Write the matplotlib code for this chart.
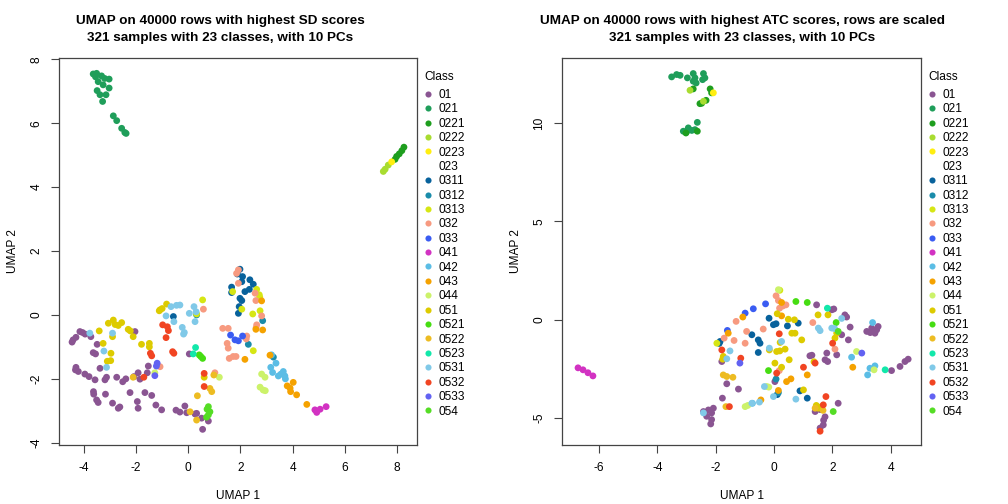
import matplotlib
matplotlib.use("Agg")
import matplotlib.pyplot as plt
from matplotlib.lines import Line2D

plt.rcParams['font.family'] = ['Liberation Sans', 'DejaVu Sans']

classes = ["01", "021", "0221", "0222", "0223", "023", "0311", "0312", "0313", "032",
           "033", "041", "042", "043", "044", "051", "0521", "0522", "0523", "0531",
           "0532", "0533", "054"]
class_colors = ["#8A5592", "#1F9E5A", "#1E9E1E", "#A8DC30", "#FFEE10", "#FFFFFF",
                "#08629C", "#1A8CAA", "#D6E614", "#F79A80", "#3A5CF2", "#D232C2",
                "#5BBDE5", "#F5A200", "#CCF26A", "#DDCB00", "#46DD12", "#EDBC22",
                "#12E8AA", "#80C9E8", "#F14422", "#6262F2", "#55DD25"]

# ---- Left panel: SD scores (UMAP 1, UMAP 2) ----
SD_01 = [(-4.41, -0.78), (-4.30, -0.70), (-4.45, -0.85), (-4.05, -0.55), (-3.95, -0.60),
         (-4.15, -0.52), (-3.73, -0.68), (-3.49, -0.92), (-3.64, -1.18), (-3.55, -1.22),
         (-3.38, -1.67), (-4.30, -1.64), (-4.21, -1.77), (-4.32, -1.72), (-3.96, -1.85),
         (-3.80, -1.93), (-3.57, -2.03), (-3.19, -2.03), (-3.13, -1.95), (-2.74, -1.95),
         (-2.51, -2.09), (-2.39, -2.00), (-2.08, -1.93), (-1.85, -2.01), (-1.92, -1.81),
         (-1.57, -1.81), (-1.53, -1.60), (-2.04, -0.52), (-3.63, -2.40), (-3.62, -2.48),
         (-3.51, -2.66), (-3.45, -2.74), (-3.17, -2.48), (-2.90, -2.76), (-2.68, -2.92),
         (-2.62, -2.88), (-2.23, -2.43), (-1.95, -2.71), (-1.92, -2.92), (-1.66, -2.43),
         (-1.40, -2.52), (-1.24, -2.82), (-1.02, -2.97), (-0.47, -2.98), (-0.32, -3.04),
         (-0.13, -2.85), (-0.06, -3.06), (0.26, -3.10), (0.32, -3.08), (0.51, -3.23),
         (0.77, -3.32), (0.55, -3.58), (0.04, -1.22)]
SD_021 = [(-3.64, 7.54), (-3.51, 7.56), (-3.32, 7.48), (-3.03, 7.38), (-3.45, 7.30),
          (-3.26, 7.20), (-3.03, 7.10), (-3.49, 7.02), (-3.38, 6.89), (-3.15, 6.89),
          (-3.28, 6.68), (-3.55, 7.45), (-3.20, 7.40), (-2.87, 6.23), (-2.74, 6.08),
          (-2.55, 5.84), (-2.43, 5.71), (-2.38, 5.68)]
SD_0221 = [(8.26, 5.25), (8.18, 5.14), (8.08, 5.04), (7.98, 4.96), (7.92, 4.87)]
SD_0222 = [(7.66, 4.69), (7.54, 4.56), (7.47, 4.49)]
SD_0223 = [(7.79, 4.79)]
SD_023 = []
SD_0311 = [(1.98, 1.43), (1.88, 1.28), (2.08, 1.20), (2.05, 1.04), (2.36, 1.10),
           (2.49, 0.96), (2.34, 0.80), (2.17, 0.73), (1.66, 0.87), (1.66, 0.70),
           (2.05, 0.45), (1.95, 0.26), (1.92, 0.05), (-0.57, -0.05), (1.98, 0.52)]
SD_0312 = [(2.85, -0.18), (2.30, -0.92), (3.26, -1.32), (0.32, 0.00)]
SD_0313 = [(2.62, 0.80), (2.72, 0.63), (2.74, 0.55), (1.70, 0.73), (2.05, 0.18),
           (2.47, 0.03), (2.75, 0.13), (0.55, 0.47), (0.32, 0.03), (2.49, -1.12)]
SD_032 = [(1.92, 1.41), (1.85, 1.30), (1.92, 0.99), (2.56, 0.68), (2.59, 0.45),
          (2.81, -0.03), (2.62, -0.31), (1.32, -0.42), (1.53, -0.42), (1.49, -0.89),
          (1.53, -1.04), (1.57, -1.36), (1.72, -1.30), (1.83, -1.30), (2.24, -0.66),
          (2.22, -0.75), (0.58, 0.18), (1.02, -1.81), (-1.08, -1.62), (2.60, -0.40)]
SD_033 = [(1.62, -0.63), (1.79, -0.78), (1.92, -0.81), (2.08, -0.66)]
SD_041 = [(4.85, -2.97), (5.05, -2.95), (5.28, -2.87), (4.92, -3.05)]
SD_042 = [(3.19, -1.25), (3.36, -1.51), (3.16, -1.64), (3.23, -1.80), (3.45, -1.91),
          (3.64, -1.77), (3.70, -1.91), (3.72, -2.00), (3.55, -1.85)]
SD_043 = [(4.02, -2.11), (3.79, -2.22), (3.90, -2.29), (3.92, -2.40), (4.15, -2.50),
          (4.54, -2.80), (2.81, 0.44), (2.85, -0.47), (2.59, -0.45), (2.17, -1.39),
          (3.13, -1.26)]
SD_044 = [(2.81, -1.85), (2.94, -1.95), (2.75, -2.26), (2.87, -2.35), (2.95, -2.37),
          (1.19, -1.95), (-1.28, -1.81)]
SD_051 = [(-2.87, -0.16), (-3.06, -0.26), (-2.68, -0.33), (-2.55, -0.24), (-2.80, -0.30),
          (-2.30, -0.45), (-2.22, -0.50), (-3.41, -0.50), (-2.90, -0.68), (-3.26, -0.89),
          (-2.11, -0.68), (-1.79, -0.92), (-1.49, -0.89), (-1.49, -1.00), (-2.96, -1.20),
          (-2.97, -1.43), (-3.10, -1.45), (-1.11, 0.13), (-1.00, 0.20), (-0.83, 0.34),
          (-1.08, 0.16), (0.61, -1.95)]
SD_0521 = [(0.42, -1.25), (0.55, -1.36), (0.48, -1.30)]
SD_0522 = [(0.98, -1.88), (0.83, -2.30), (0.90, -2.40), (0.35, -2.53), (0.07, -3.03),
           (0.32, -3.29), (-2.11, -1.95)]
SD_0523 = [(0.28, -1.02), (0.19, -1.22)]
SD_0531 = [(-0.66, 0.26), (-0.45, 0.30), (-0.32, 0.31), (0.04, 0.05), (0.22, 0.26),
           (0.26, -0.21), (-0.55, -0.21), (-0.85, -0.03), (-0.23, -0.39), (-0.15, -0.55),
           (-0.18, -0.60), (-3.77, -0.57), (-2.90, -0.57), (-3.23, -1.13), (-3.13, -1.64),
           (0.30, 0.10)]
SD_0532 = [(-0.98, -0.31), (-0.80, -0.37), (-0.76, -0.49), (-0.85, -0.71), (-0.60, -1.15),
           (-0.55, -1.20), (-1.40, -1.28), (-1.70, -1.95), (0.61, -1.83), (0.61, -2.24),
           (-1.45, -1.20)]
SD_0533 = [(-1.19, -1.51), (-1.22, -1.60), (-1.28, -1.90)]
SD_054 = [(0.77, -2.87), (0.83, -3.03), (0.77, -3.13), (0.70, -3.20), (0.72, -2.95)]

# ---- Right panel: ATC scores (UMAP 1, UMAP 2) ----
ATC_01 = [(-2.25, -4.58), (-2.42, -4.66), (-2.14, -4.73), (-2.31, -4.90), (-2.14, -5.07),
          (-2.17, -5.29), (-2.08, -4.49), (-1.79, -2.12), (-1.62, -3.25), (-1.22, -3.52),
          (-1.77, -3.98), (0.03, -3.14), (1.46, 0.76), (1.98, 0.51), (2.05, 0.55),
          (2.43, 0.25), (2.49, 0.14), (2.61, -0.37), (2.32, -0.76), (2.55, -1.02),
          (1.23, -1.83), (1.81, -1.69), (1.75, -2.03), (1.84, -2.12), (2.15, -1.78),
          (1.30, -1.80), (3.18, -0.59), (3.35, -0.42), (3.52, -0.51), (3.46, -0.68),
          (3.57, -0.34), (3.30, -0.65), (4.49, -2.12), (4.32, -2.37), (4.03, -2.58),
          (4.60, -2.00), (1.41, -4.66), (1.75, -4.93), (1.69, -5.34), (1.58, -5.50),
          (2.20, -4.24), (1.58, -4.56), (1.70, -5.10)]
ATC_021 = [(-3.51, 12.34), (-3.34, 12.46), (-3.22, 12.42), (-2.97, 12.29), (-2.77, 12.51),
           (-2.71, 12.29), (-2.77, 12.12), (-2.67, 12.03), (-2.42, 12.51), (-2.37, 12.29),
           (-2.45, 12.20), (-2.63, 10.03), (-2.94, 9.75), (-3.11, 9.58), (-2.82, 9.62),
           (-2.71, 9.66), (-3.00, 9.55)]
ATC_0221 = [(-2.77, 11.73), (-2.19, 11.73), (-2.14, 11.53), (-2.33, 11.15), (-2.54, 10.98),
            (-2.48, 11.00), (-2.63, 9.58), (-3.02, 9.49)]
ATC_0222 = [(-2.88, 11.66), (-2.42, 11.10)]
ATC_0223 = [(-2.08, 11.53)]
ATC_023 = []
ATC_0311 = [(-0.17, 0.08), (-0.02, -0.25), (0.07, -0.20), (-0.76, -0.76), (-0.54, -1.02),
            (-0.48, -1.19), (-0.54, -1.66), (-1.85, -1.10), (-1.88, -1.20), (0.46, -0.31),
            (0.83, -0.17), (0.89, -3.61), (1.14, -3.98), (0.11, -3.80)]
ATC_0312 = [(0.07, -3.01), (0.15, -3.70)]
ATC_0313 = [(-1.96, -1.19), (0.20, 1.50)]
ATC_032 = [(0.07, 1.22), (0.15, 0.98), (0.41, 0.76), (0.19, 0.59), (-1.30, -0.08),
           (-0.94, -0.59), (-1.37, -1.05), (-1.71, -0.93), (-0.99, -1.19), (-0.37, -0.47),
           (1.33, -0.14), (2.09, -1.49), (0.18, -2.58), (0.30, 0.70)]
ATC_033 = [(-0.71, 0.56), (-0.29, 0.81), (-0.99, 0.34), (-1.60, -0.54)]
ATC_041 = [(-6.72, -2.44), (-6.55, -2.54), (-6.38, -2.69), (-6.21, -2.85)]
ATC_042 = [(3.38, -0.14), (2.66, -1.90), (3.29, -2.46), (3.21, -2.80), (3.46, -2.34),
           (-0.74, -4.24)]
ATC_043 = [(0.26, 0.20), (-1.07, 0.14), (-1.57, -0.68), (1.14, -2.80), (0.43, -3.14),
           (0.58, -3.00), (-0.45, -4.07), (0.15, -3.59), (2.70, -2.41), (0.26, 0.88)]
ATC_044 = [(0.15, 1.53), (-0.25, -3.39), (-0.18, -3.42), (-0.99, -4.41), (-0.90, -4.35),
           (2.83, -1.61), (3.43, -2.54)]
ATC_051 = [(0.11, 0.31), (0.49, 0.03), (0.70, 0.00), (1.51, 0.25), (1.85, 0.25),
           (0.61, -0.68), (0.72, -0.68), (0.21, -1.15), (-0.16, -1.53), (0.09, -1.61),
           (0.20, -1.58), (0.38, -1.49), (0.03, -2.20), (0.52, -2.03), (0.26, -2.41),
           (0.95, -1.02), (1.37, -2.13), (-1.74, -1.86), (-1.76, -2.00), (2.09, -0.93),
           (2.15, -0.68), (1.63, -4.41), (1.52, -4.49), (1.01, -3.56), (1.45, -4.35)]
ATC_0521 = [(0.75, 0.93), (1.14, 0.88), (2.13, -0.14), (-0.19, -2.58)]
ATC_0522 = [(-1.74, -2.80), (-1.62, -2.88), (-1.41, -2.92), (-1.65, -4.41), (1.41, -4.49),
            (1.68, -4.60)]
ATC_0523 = [(1.83, 0.59), (3.81, -2.54)]
ATC_0531 = [(1.52, -0.42), (1.58, -0.55), (1.98, -0.42), (2.08, -0.45), (-0.16, -1.44),
            (0.26, -1.10), (0.75, -4.03), (-0.33, -3.39), (-0.76, -4.24), (-0.50, -4.18),
            (-1.51, -1.58), (-1.62, -1.98), (-2.42, -4.73), (2.32, 0.07), (-0.02, -3.90)]
ATC_0532 = [(0.18, -0.71), (-1.79, -1.53), (-1.14, -1.95), (1.01, -2.41), (1.41, -2.20),
            (2.01, -1.19), (1.78, -3.90), (1.69, -4.32), (1.58, -5.66), (0.09, -2.71),
            (-1.53, -4.41)]
ATC_0533 = [(3.01, -1.69), (-1.17, -2.20)]
ATC_054 = [(2.20, -0.59), (2.03, -4.66)]

sd_sets = [SD_01, SD_021, SD_0221, SD_0222, SD_0223, SD_023, SD_0311, SD_0312, SD_0313,
           SD_032, SD_033, SD_041, SD_042, SD_043, SD_044, SD_051, SD_0521, SD_0522,
           SD_0523, SD_0531, SD_0532, SD_0533, SD_054]
atc_sets = [ATC_01, ATC_021, ATC_0221, ATC_0222, ATC_0223, ATC_023, ATC_0311, ATC_0312,
            ATC_0313, ATC_032, ATC_033, ATC_041, ATC_042, ATC_043, ATC_044, ATC_051,
            ATC_0521, ATC_0522, ATC_0523, ATC_0531, ATC_0532, ATC_0533, ATC_054]

titles = ["UMAP on 40000 rows with highest SD scores\n321 samples with 23 classes, with 10 PCs",
          "UMAP on 40000 rows with highest ATC scores, rows are scaled\n321 samples with 23 classes, with 10 PCs"]

W, H = 1008, 504
fig = plt.figure(figsize=(W / 100, H / 100), dpi=100)
ax1 = fig.add_axes([59 / W, 1 - 445 / H, 358 / W, 387 / H])
ax2 = fig.add_axes([562 / W, 1 - 445 / H, 359 / W, 387 / H])

FS = 8.6

def draw(ax, sets, title, title_x, wpx, xlim, ylim, xticks, yticks):
    for pts, col in zip(sets, class_colors):
        if not pts:
            continue
        xs = [p[0] for p in pts]
        ys = [p[1] for p in pts]
        ax.scatter(xs, ys, s=24, c=col, edgecolors='none', zorder=2)
    ax.set_xlim(*xlim)
    ax.set_ylim(*ylim)
    ax.set_xticks(xticks)
    ax.set_yticks(yticks)
    ax.set_xticklabels([str(t) for t in xticks])
    ax.set_yticklabels([str(t) for t in yticks], rotation=90, va='center')
    ax.tick_params(direction='out', length=6, width=0.8, labelsize=FS, pad=6, color='#444444')
    for sp in ax.spines.values():
        sp.set_linewidth(0.9)
        sp.set_color('#444444')
    ax.set_xlabel("UMAP 1", fontsize=FS, labelpad=12)
    ax.set_ylabel("UMAP 2", fontsize=FS, labelpad=8)
    ax.set_title(title, fontsize=9.7, fontweight='bold', pad=12, linespacing=1.55, x=title_x)
    ax.text(1 + 7 / wpx, 1 - 19 / 387, "Class", transform=ax.transAxes, fontsize=FS,
            ha='left', va='center')
    handles = [Line2D([], [], linestyle='none', marker='o', markersize=4.4,
                      markerfacecolor=c, markeredgecolor='none') for c in class_colors]
    ax.legend(handles, classes, loc='upper left', bbox_to_anchor=(1 + 5 / wpx, 1 - 31 / 387),
              frameon=False, fontsize=FS,
              handlelength=1.0, handletextpad=0.4, labelspacing=0.2,
              borderaxespad=0.0, borderpad=0.0)

draw(ax1, sd_sets, titles[0], (220 - 59) / 358, 358, (-4.95, 8.76), (-4.07, 8.04),
     [-4, -2, 0, 2, 4, 6, 8], [-4, -2, 0, 2, 4, 6, 8])
draw(ax2, atc_sets, titles[1], (742 - 562) / 359, 359, (-7.27, 5.04), (-6.36, 13.3),
     [-6, -4, -2, 0, 2, 4], [-5, 0, 5, 10])

fig.savefig("out.png", dpi=100)
